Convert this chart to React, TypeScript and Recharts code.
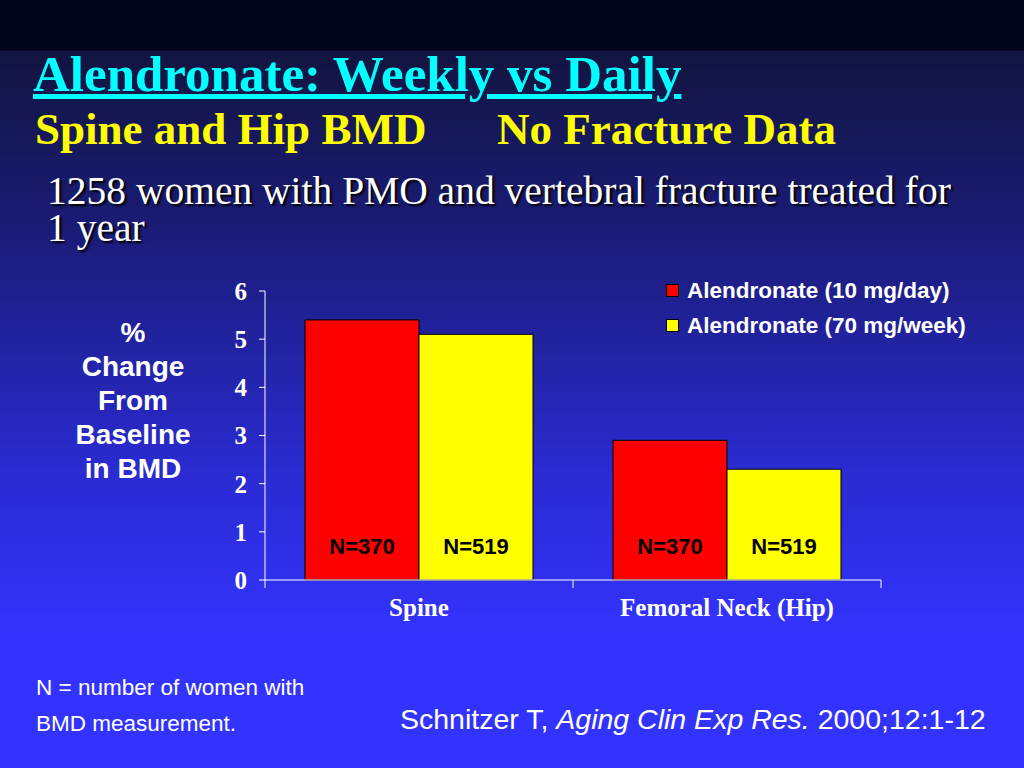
import React from "react";
import { BarChart, Bar, XAxis, YAxis, LabelList } from "recharts";

const categories = ["Spine", "Femoral Neck (Hip)"];
const dailyChange = [5.4, 2.9];
const weeklyChange = [5.1, 2.3];
const dailyN = [370, 370];
const weeklyN = [519, 519];
const yTicks = [0, 1, 2, 3, 4, 5, 6];
const seriesNames = ["Alendronate (10 mg/day)", "Alendronate (70 mg/week)"];
const seriesColors = ["#ff0000", "#ffff00"];

const chartData = categories.map((name, i) => ({
  name,
  daily: dailyChange[i],
  weekly: weeklyChange[i],
  dailyN: `N=${dailyN[i]}`,
  weeklyN: `N=${weeklyN[i]}`,
}));

const CHART_W = 720;
const CHART_H = 370;
const MARGIN = { top: 21, right: 39, left: 25, bottom: 20 };
const Y_AXIS_W = 40;
const PLOT_W = CHART_W - MARGIN.left - MARGIN.right - Y_AXIS_W;
const BAND = PLOT_W / categories.length;

const serif = "'Liberation Serif', 'Times New Roman', serif";
const sans = "'Liberation Sans', Arial, sans-serif";

const CategoryTick = (props: any) => {
  const { x, y, payload, index } = props;
  const last = index === categories.length - 1;
  return (
    <g>
      <line x1={x - BAND / 2} x2={x - BAND / 2} y1={y} y2={y + 8} stroke="#fff" strokeWidth={1} />
      {last && (
        <line x1={x + BAND / 2} x2={x + BAND / 2} y1={y} y2={y + 8} stroke="#fff" strokeWidth={1} />
      )}
      <text
        x={x}
        y={y + 36}
        textAnchor="middle"
        fill="#fff"
        fontFamily={serif}
        fontWeight="bold"
        fontSize={25}
      >
        {payload.value}
      </text>
    </g>
  );
};

const NLabel = (props: any) => {
  const { x, y, width, height, value } = props;
  return (
    <text
      x={x + width / 2}
      y={y + height - 26}
      textAnchor="middle"
      fill="#000"
      fontFamily={sans}
      fontWeight="bold"
      fontSize={22}
    >
      {value}
    </text>
  );
};

export default function App() {
  return (
    <div
      style={{
        position: "absolute",
        left: 0,
        top: 0,
        width: 1024,
        height: 768,
        overflow: "hidden",
        background:
          "linear-gradient(to bottom, #02041a 0px, #02041a 50px, #121540 51px, #1b1c7a 240px, #2a2bd0 470px, #3333ff 640px, #3333ff 768px)",
      }}
    >
      <div
        style={{
          position: "absolute",
          left: 33,
          top: 46,
          fontFamily: serif,
          fontWeight: "bold",
          fontSize: 51,
          color: "#00ffff",
          textDecoration: "underline",
          lineHeight: "56px",
          whiteSpace: "nowrap",
        }}
      >
        Alendronate: Weekly vs Daily
      </div>
      <div
        style={{
          position: "absolute",
          left: 35,
          top: 103,
          fontFamily: serif,
          fontWeight: "bold",
          fontSize: 45,
          color: "#ffff00",
          lineHeight: "52px",
          whiteSpace: "nowrap",
        }}
      >
        Spine and Hip BMD
        <span style={{ position: "absolute", left: 462 }}>No Fracture Data</span>
      </div>
      <div
        style={{
          position: "absolute",
          left: 47,
          top: 173,
          width: 930,
          fontFamily: serif,
          fontSize: 39.5,
          color: "#fff",
          lineHeight: "37px",
          textShadow: "2px 2px 2px #000",
        }}
      >
        1258 women with PMO and vertebral fracture treated for 1 year
      </div>
      <div
        style={{
          position: "absolute",
          left: 60,
          top: 316,
          width: 146,
          textAlign: "center",
          fontFamily: sans,
          fontWeight: "bold",
          fontSize: 28,
          color: "#fff",
          lineHeight: "34px",
        }}
      >
        %<br />Change<br />From<br />Baseline<br />in BMD
      </div>

      <div style={{ position: "absolute", left: 666, top: 273 }}>
        {seriesNames.map((n, i) => (
          <div
            key={n}
            style={{ display: "flex", alignItems: "center", height: 35, whiteSpace: "nowrap" }}
          >
            <span
              style={{
                display: "inline-block",
                width: 11,
                height: 11,
                background: seriesColors[i],
                border: "1px solid #000",
                marginRight: 8,
              }}
            />
            <span style={{ color: "#fff", fontFamily: sans, fontWeight: "bold", fontSize: 22.5 }}>
              {n}
            </span>
          </div>
        ))}
      </div>

      <div style={{ position: "absolute", left: 200, top: 270 }}>
        <BarChart
          width={CHART_W}
          height={CHART_H}
          data={chartData}
          margin={MARGIN}
          barCategoryGap={40}
          barGap={0}
        >
          <XAxis
            dataKey="name"
            axisLine={{ stroke: "#fff", strokeWidth: 1 }}
            tickLine={false}
            tickSize={0}
            tickMargin={0}
            height={40}
            interval={0}
            tick={<CategoryTick />}
          />
          <YAxis
            width={Y_AXIS_W}
            domain={[0, 6]}
            ticks={yTicks}
            interval={0}
            axisLine={{ stroke: "#fff", strokeWidth: 1 }}
            tickLine={{ stroke: "#fff", strokeWidth: 1 }}
            tickSize={6}
            tickMargin={12}
            tick={{ fill: "#fff", fontFamily: serif, fontWeight: "bold", fontSize: 25 }}
          />
          <Bar
            dataKey="daily"
            name={seriesNames[0]}
            fill={seriesColors[0]}
            stroke="#000"
            strokeWidth={1}
            isAnimationActive={false}
          >
            <LabelList dataKey="dailyN" content={<NLabel />} />
          </Bar>
          <Bar
            dataKey="weekly"
            name={seriesNames[1]}
            fill={seriesColors[1]}
            stroke="#000"
            strokeWidth={1}
            isAnimationActive={false}
          >
            <LabelList dataKey="weeklyN" content={<NLabel />} />
          </Bar>
        </BarChart>
      </div>

      <div
        style={{
          position: "absolute",
          left: 36,
          top: 670,
          fontFamily: sans,
          fontSize: 22.5,
          color: "#fff",
          lineHeight: "36px",
          whiteSpace: "nowrap",
        }}
      >
        N = number of women with
        <br />
        BMD measurement.
      </div>
      <div
        style={{
          position: "absolute",
          left: 400,
          top: 703,
          fontFamily: sans,
          fontSize: 28.5,
          color: "#fff",
          whiteSpace: "nowrap",
        }}
      >
        Schnitzer T, <i>Aging Clin Exp Res.</i> 2000;12:1-12
      </div>
    </div>
  );
}
